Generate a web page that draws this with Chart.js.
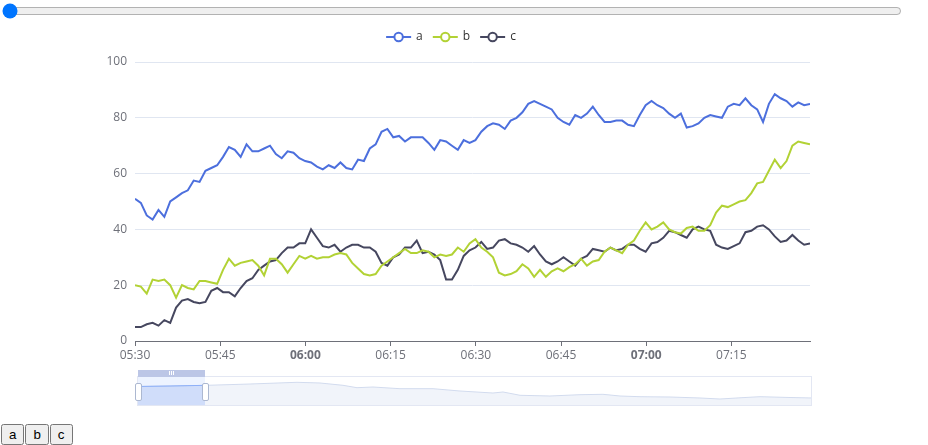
<!DOCTYPE html>
<html>
<head>
<meta charset="utf-8">
<script src="https://cdn.jsdelivr.net/npm/chart.js@4.4.1/dist/chart.umd.min.js"></script>
<style>
html,body{margin:0;padding:0;background:#fff;width:928px;height:445px;overflow:hidden;font-family:Arial,'Liberation Sans',sans-serif;}
#slider{position:absolute;left:0;top:1px;width:900px;margin:2px;}
#main{position:absolute;left:0;top:20px;width:900px;height:400px;}
#dzWrap{position:absolute;left:137px;top:376px;width:675px;height:30px;}
#dzSel{position:absolute;left:137px;top:376px;width:68px;height:30px;overflow:hidden;}
#dzSelInner{position:absolute;left:0;top:0;width:675px;height:30px;}
#dzBorder{position:absolute;left:137px;top:376px;width:675px;height:30px;box-sizing:border-box;border:1px solid #e3e7f3;pointer-events:none;}
#dzFiller{position:absolute;left:138px;top:376px;width:67px;height:30px;background:rgba(135,175,255,0.15);}
#dzMove{position:absolute;left:138px;top:370px;width:67px;height:7px;background:#bcc6e6;}
.grip{position:absolute;top:1px;width:1px;height:4px;background:#fff;}
.handle{position:absolute;top:383px;width:5px;height:16px;background:#fff;border:1px solid #acb8d1;border-radius:2px;}
#btns{position:absolute;left:1px;top:424px;display:flex;gap:1px;}
#btns button{height:21px;padding:1px 6px;font-size:13.33px;}
</style>
</head>
<body>
<input id="slider" type="range" min="0" max="100" value="0">
<div id="main"><canvas id="chart"></canvas></div>
<div id="dzWrap"><canvas id="preview"></canvas></div>
<div id="dzSel"><div id="dzSelInner"><canvas id="previewSel"></canvas></div></div>
<div id="dzFiller"></div>
<div id="dzBorder"></div>
<div id="dzMove"><div class="grip" style="left:31px"></div><div class="grip" style="left:33px"></div><div class="grip" style="left:35px"></div></div>
<div class="handle" style="left:135px"></div>
<div class="handle" style="left:202px"></div>
<div id="btns"><button>a</button><button>b</button><button>c</button></div>
<script>
// ---- data ----
const seriesNames = ['a', 'b', 'c'];
const seriesColors = ['#4c6fdd', '#b2d235', '#46475f'];
const startMinutes = 5 * 60 + 30;   // 05:30
const sampleStep = 62;              // seconds between samples

const seriesA = [51, 49.5, 45, 43.5, 47, 44.5, 50, 51.5, 53, 54,
  57.5, 57, 61, 62, 63, 66, 69.5, 68.5, 66, 70.5,
  68, 68, 69, 70, 67, 65.5, 68, 67.5, 65.5, 64.5,
  64, 62.5, 61.5, 63, 62, 64, 62, 61.5, 65, 64.5,
  69, 70.5, 75, 76, 73, 73.5, 71.5, 73, 73, 73,
  71, 68.5, 72, 71.5, 70, 68.5, 72, 71, 72, 75,
  77, 78, 77.5, 76, 79, 80, 82, 85, 86, 85,
  84, 83, 80, 78.5, 77.5, 81, 80, 81.5, 84, 81,
  78.5, 78.5, 79, 79, 77.5, 77, 81, 84.5, 86, 84.5,
  83.5, 81.5, 80, 81.5, 76.5, 77, 78, 80, 81, 80.5,
  80, 84, 85, 84.5, 87, 84.5, 83, 78.5, 85, 88.5,
  87, 86, 84, 85.5, 84.5, 85];

const seriesB = [20, 19.5, 17, 22, 21.5, 22, 20, 15.5, 20, 19,
  18.5, 21.5, 21.5, 21, 20.5, 25.5, 29.5, 27, 28, 28.5,
  29, 27, 23.5, 29.5, 29.5, 27.5, 24.5, 27.5, 30.5, 29.5,
  30.5, 29.5, 30, 30, 31, 31.5, 31, 28, 26, 24,
  23.5, 24, 27, 28.5, 30, 31.5, 33, 31.5, 31.5, 32.5,
  32, 30, 31, 30.5, 31, 33.5, 32, 35, 36.5, 33.5,
  32, 30, 24.5, 23.5, 24, 25, 27.5, 26, 23, 25.5,
  23, 25, 26, 25, 26.5, 27.5, 29.5, 27, 28.5, 29,
  32, 33.5, 32.5, 31.5, 34.5, 36, 39.5, 42.5, 40, 41,
  42.5, 40, 39, 38.5, 40.5, 41, 39.5, 39.5, 41.5, 46,
  48.5, 48, 49, 50, 50.5, 53, 56.5, 57, 61, 65,
  62, 64.5, 70, 71.5, 71, 70.5];

const seriesC = [5, 5, 6, 6.5, 5.5, 7.5, 6.5, 12, 14.5, 15,
  14, 13.5, 14, 18, 19, 17.5, 17.5, 16, 19, 21.5,
  22.5, 25.5, 27, 28.5, 29, 31.5, 33.5, 33.5, 35, 35,
  40, 37, 34, 33.5, 34.5, 32, 33.5, 34.5, 34.5, 33.5,
  33.5, 32, 28, 27, 30, 31, 33.5, 33.5, 36, 31.5,
  32, 31, 29, 22, 22, 25.5, 30.5, 32.5, 33.5, 35.5,
  33, 33.5, 36, 36.5, 35, 34.5, 33.5, 32, 34, 31,
  28.5, 27.5, 28.5, 30, 28.5, 27, 29.5, 30.5, 33, 32.5,
  32, 33.5, 32.5, 33, 34.5, 34.5, 33, 32, 35, 35.5,
  37, 39.5, 39, 38, 37, 40, 41, 40, 39.5, 34.5,
  33.5, 33, 34, 35, 39, 39.5, 41, 41.5, 40, 37.5,
  35.5, 36, 38, 36, 34.5, 35];

const tickLabels = ['05:30', '05:45', '06:00', '06:15', '06:30', '06:45', '07:00', '07:15'];
const boldLabels = ['06:00', '07:00'];
const yTicks = [0, 20, 40, 60, 80, 100];

// data zoom overview line (seconds after 05:30, value in 0..100 of the strip)
const previewSeconds = [0, 349, 739, 1194, 1690, 1933, 2176, 2324, 2493, 2778, 3127, 3412, 3760, 3866, 4046, 4362, 4679, 4922, 5102, 5313, 5630, 5947, 6158, 6422, 6581, 6898, 7130];
const previewValues = [65, 66.7, 69, 73.3, 79, 76.7, 69, 61, 63.3, 57.7, 57.7, 50, 43.3, 46.7, 35.7, 33.3, 37.7, 39, 33.3, 31, 30, 26.7, 23.3, 28.3, 31, 28.3, 26.7];

// ---- helpers ----
const labelToSec = l => { const [h, m] = l.split(':').map(Number); return (h * 60 + m - startMinutes) * 60; };
const secToLabel = s => { const t = startMinutes + Math.round(s / 60); return String(Math.floor(t / 60)).padStart(2, '0') + ':' + String(t % 60).padStart(2, '0'); };
const sampleSec = seriesA.map((_, i) => i * sampleStep);
const xMax = sampleSec[sampleSec.length - 1];

// ---- chart ----
const FONT = "'Open Sans', 'Liberation Sans', sans-serif";
Chart.defaults.font.family = FONT;
Chart.defaults.font.size = 12;

const legendPlugin = {
  id: 'echartsLegend',
  afterDraw(chart) {
    const ctx = chart.ctx;
    ctx.save();
    ctx.font = '12px ' + FONT;
    const items = chart.data.datasets.map(d => ({ label: d.label, color: d.borderColor, w: 25 + 5 + ctx.measureText(d.label).width }));
    const gap = 10;
    const total = items.reduce((s, it) => s + it.w, 0) + gap * (items.length - 1);
    let x = chart.width / 2 - total / 2 + 1;
    const y = 17;
    items.forEach(it => {
      ctx.strokeStyle = it.color;
      ctx.lineWidth = 2;
      ctx.beginPath(); ctx.moveTo(x, y); ctx.lineTo(x + 25, y); ctx.stroke();
      ctx.beginPath(); ctx.arc(x + 12.5, y, 4.2, 0, Math.PI * 2);
      ctx.fillStyle = '#fff'; ctx.fill(); ctx.stroke();
      ctx.fillStyle = '#333';
      ctx.textBaseline = 'middle';
      ctx.textAlign = 'left';
      ctx.fillText(it.label, x + 30, y);
      x += it.w + gap;
    });
    ctx.restore();
  }
};

const seriesList = [seriesA, seriesB, seriesC];
new Chart(document.getElementById('chart'), {
  type: 'line',
  data: {
    datasets: seriesList.map((s, k) => ({
      label: seriesNames[k],
      data: s.map((v, i) => ({ x: sampleSec[i], y: v })),
      borderColor: seriesColors[k],
      backgroundColor: seriesColors[k],
      borderWidth: 2,
      pointRadius: 0,
      tension: 0
    }))
  },
  options: {
    responsive: true,
    maintainAspectRatio: false,
    animation: false,
    layout: { padding: { left: 0, right: 90, top: 42, bottom: 49 } },
    plugins: { legend: { display: false }, tooltip: { enabled: false } },
    scales: {
      x: {
        type: 'linear',
        min: 0,
        max: xMax,
        afterBuildTicks: s => { s.ticks = tickLabels.map(l => ({ value: labelToSec(l) })); },
        afterFit: s => { s.height = 30; },
        grid: { drawOnChartArea: false, drawTicks: true, tickLength: 5, tickColor: '#6E7079', tickWidth: 1 },
        border: { display: true, color: '#6E7079', width: 1 },
        ticks: {
          color: '#6E7079',
          padding: 2,
          maxRotation: 0,
          autoSkip: false,
          callback: v => secToLabel(v),
          font: ctx => ({ size: 12, family: FONT, weight: (ctx.tick && boldLabels.includes(secToLabel(ctx.tick.value))) ? 'bold' : 'normal' })
        }
      },
      y: {
        min: 0,
        max: 100,
        afterBuildTicks: s => { s.ticks = yTicks.map(v => ({ value: v })); },
        afterFit: s => { s.width = 135; },
        grid: { color: '#E0E6F1', drawTicks: false, lineWidth: 1 },
        border: { display: false },
        ticks: { color: '#6E7079', padding: 8, font: { size: 12 } }
      }
    }
  },
  plugins: [legendPlugin]
});

// ---- data zoom overview ----
const previewData = previewValues.map((v, i) => ({ x: previewSeconds[i], y: v }));
function overview(id, line, area) {
  return new Chart(document.getElementById(id), {
    type: 'line',
    data: { datasets: [{ data: previewData, borderColor: line, borderWidth: 1, pointRadius: 0, fill: 'start', backgroundColor: area, tension: 0 }] },
    options: {
      responsive: true,
      maintainAspectRatio: false,
      animation: false,
      layout: { padding: 0 },
      plugins: { legend: { display: false }, tooltip: { enabled: false } },
      scales: {
        x: { type: 'linear', display: false, min: 0, max: xMax },
        y: { display: false, min: 0, max: 100 }
      }
    }
  });
}
overview('preview', '#d2dbee', 'rgba(210,219,238,0.3)');
overview('previewSel', '#8fb0f7', 'rgba(143,176,247,0.2)');
</script>
</body>
</html>
